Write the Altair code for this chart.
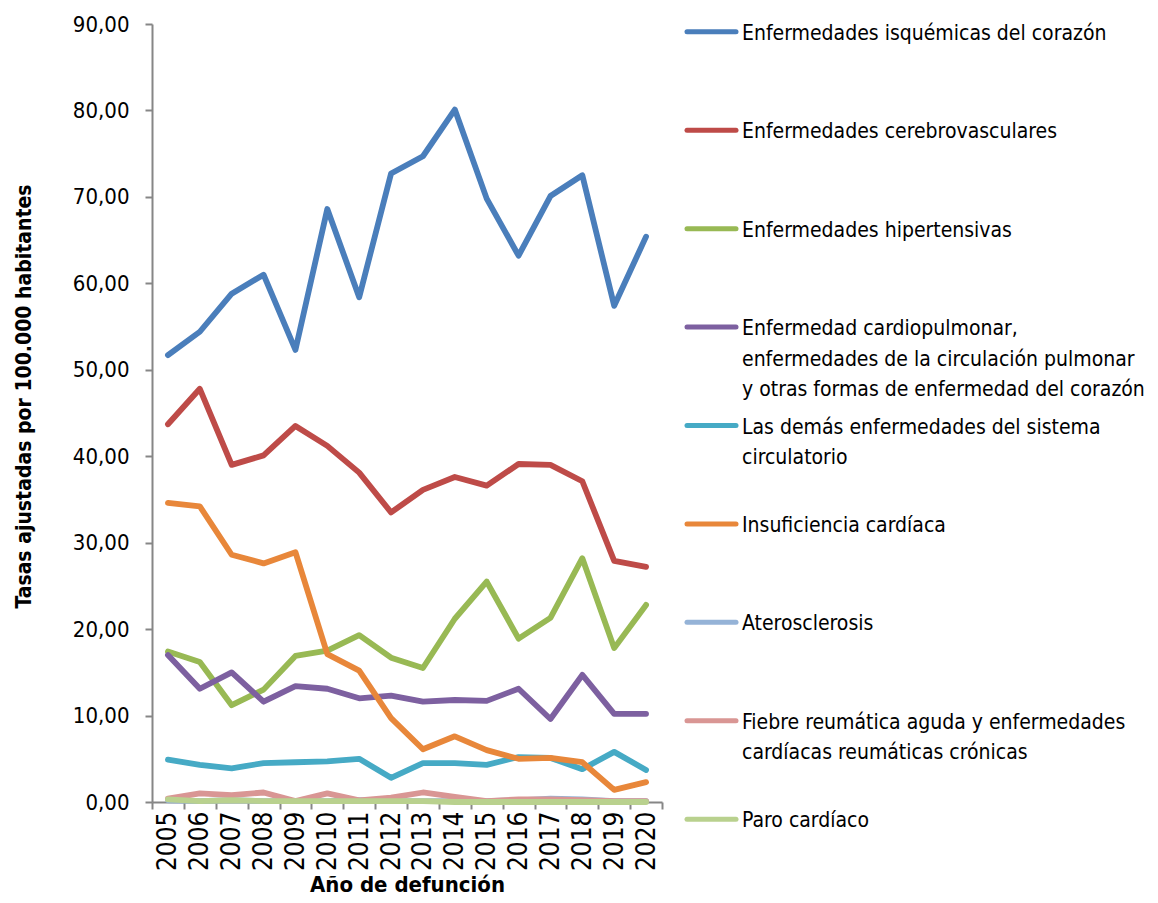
import altair as alt
import pandas as pd

years = [str(y) for y in range(2005, 2021)]

series_names = [
    "Enfermedades isquémicas del corazón",
    "Enfermedades cerebrovasculares",
    "Enfermedades hipertensivas",
    "Enfermedad cardiopulmonar, enfermedades de la circulación pulmonar y otras formas de enfermedad del corazón",
    "Las demás enfermedades del sistema circulatorio",
    "Insuficiencia cardíaca",
    "Aterosclerosis",
    "Fiebre reumática aguda y enfermedades cardíacas reumáticas crónicas",
    "Paro cardíaco",
]
legend_labels = [
    "Enfermedades isquémicas del corazón",
    "Enfermedades cerebrovasculares",
    "Enfermedades hipertensivas",
    "Enfermedad cardiopulmonar,\nenfermedades de la circulación pulmonar\ny otras formas de enfermedad del corazón",
    "Las demás enfermedades del sistema\ncirculatorio",
    "Insuficiencia cardíaca",
    "Aterosclerosis",
    "Fiebre reumática aguda y enfermedades\ncardíacas reumáticas crónicas",
    "Paro cardíaco",
]
colors = ["#4A7EBB", "#BE4B48", "#98B954", "#7D60A0", "#46AAC5",
          "#E8873A", "#95B3D7", "#D99694", "#B9D18E"]

isquemicas = [51.7, 54.4, 58.8, 61.0, 52.3, 68.6, 58.4, 72.7, 74.7, 80.1, 69.8, 63.2, 70.1, 72.5, 57.4, 65.4]
cerebro = [43.7, 47.8, 39.0, 40.1, 43.5, 41.2, 38.1, 33.5, 36.1, 37.6, 36.6, 39.1, 39.0, 37.1, 27.9, 27.2]
hipertensivas = [17.4, 16.2, 11.2, 13.0, 16.9, 17.5, 19.3, 16.7, 15.5, 21.2, 25.5, 18.9, 21.3, 28.2, 17.8, 22.8]
cardiopulmonar = [17.0, 13.1, 15.0, 11.6, 13.4, 13.1, 12.0, 12.3, 11.6, 11.8, 11.7, 13.1, 9.6, 14.7, 10.2, 10.2]
demas = [4.9, 4.3, 3.9, 4.5, 4.6, 4.7, 5.0, 2.8, 4.5, 4.5, 4.3, 5.2, 5.1, 3.8, 5.8, 3.7]
insuficiencia = [34.6, 34.2, 28.6, 27.6, 28.9, 17.1, 15.2, 9.7, 6.1, 7.6, 6.0, 5.0, 5.1, 4.6, 1.4, 2.3]
aterosclerosis = [0.2, 0.1, 0.2, 0.1, 0.1, 0.1, 0.2, 0.1, 0.1, 0.1, 0.1, 0.2, 0.4, 0.3, 0.1, 0.1]
fiebre = [0.4, 1.0, 0.8, 1.1, 0.1, 1.0, 0.2, 0.5, 1.1, 0.6, 0.1, 0.3, 0.3, 0.2, 0.1, 0.1]
paro = [0.3, 0.1, 0.2, 0.1, 0.1, 0.1, 0.1, 0.1, 0.1, 0.0, 0.0, 0.0, 0.0, 0.0, 0.0, 0.0]

all_values = [isquemicas, cerebro, hipertensivas, cardiopulmonar, demas,
              insuficiencia, aterosclerosis, fiebre, paro]

rows = []
for name, vals in zip(series_names, all_values):
    for y, v in zip(years, vals):
        rows.append({"serie": name, "anio": y, "valor": v})
df = pd.DataFrame(rows)

leg_df = pd.DataFrame({"serie": series_names, "label": legend_labels})

FONT = "'Liberation Sans Narrow', 'Arial Narrow', 'DejaVu Sans Condensed', 'Roboto', sans-serif"
color_scale = alt.Scale(domain=series_names, range=colors)

main = alt.Chart(df).mark_line(strokeWidth=5.8, strokeCap="round", strokeJoin="round").encode(
    x=alt.X("anio:O", bandPosition=0.5,
            scale=alt.Scale(type="band", paddingInner=0, paddingOuter=0),
            axis=alt.Axis(title="Año de defunción", labelAngle=270, labelFontSize=26,
                          labelFont=FONT, titleFont=FONT, titleFontSize=22,
                          titleFontWeight="bold", titleColor="black", labelColor="black",
                          tickBand="extent", tickSize=7, tickColor="#868686",
                          domainColor="#868686", domainWidth=2, tickWidth=2,
                          labelPadding=2, titlePadding=4, grid=False)),
    y=alt.Y("valor:Q", scale=alt.Scale(domain=[0, 90]),
            axis=alt.Axis(title="Tasas ajustadas por 100.000 habitantes",
                          values=list(range(0, 91, 10)),
                          labelExpr="replace(format(datum.value, '.2f'), '.', ',')",
                          labelFontSize=22, labelFont=FONT, titleFont=FONT,
                          titleFontSize=21, titleFontWeight="bold", titleColor="black",
                          labelColor="black", tickSize=7, tickColor="#868686",
                          domainColor="#868686", domainWidth=2, tickWidth=2,
                          labelPadding=16, titlePadding=38, titleY=372, grid=False)),
    color=alt.Color("serie:N", scale=color_scale, legend=None),
    order=alt.Order("orden:Q"),
).transform_calculate(
    orden="indexof(" + str(series_names) + ", datum.serie)"
).properties(width=510, height=778)

ybase = alt.Y("serie:N", sort=series_names,
              scale=alt.Scale(type="point", padding=0.08), axis=None)

leg_rule = alt.Chart(leg_df).mark_rule(strokeWidth=5, strokeCap="round").encode(
    x=alt.value(3), x2=alt.value(52), y=ybase,
    color=alt.Color("serie:N", scale=color_scale, legend=None),
)
leg_text = alt.Chart(leg_df).mark_text(
    align="left", baseline="alphabetic", dy=8, font=FONT, fontSize=21,
    lineBreak="\n", lineHeight=30.5, color="black"
).encode(x=alt.value(58), y=ybase, text="label:N")

legend = alt.layer(leg_rule, leg_text).properties(width=380, height=803)

chart = alt.hconcat(main, legend, spacing=21).properties(
    padding={"left": 5, "top": 5, "right": 0, "bottom": 0}
).configure_view(stroke=None)

chart.save("out.html", embed_options={"renderer": "svg", "actions": False})
